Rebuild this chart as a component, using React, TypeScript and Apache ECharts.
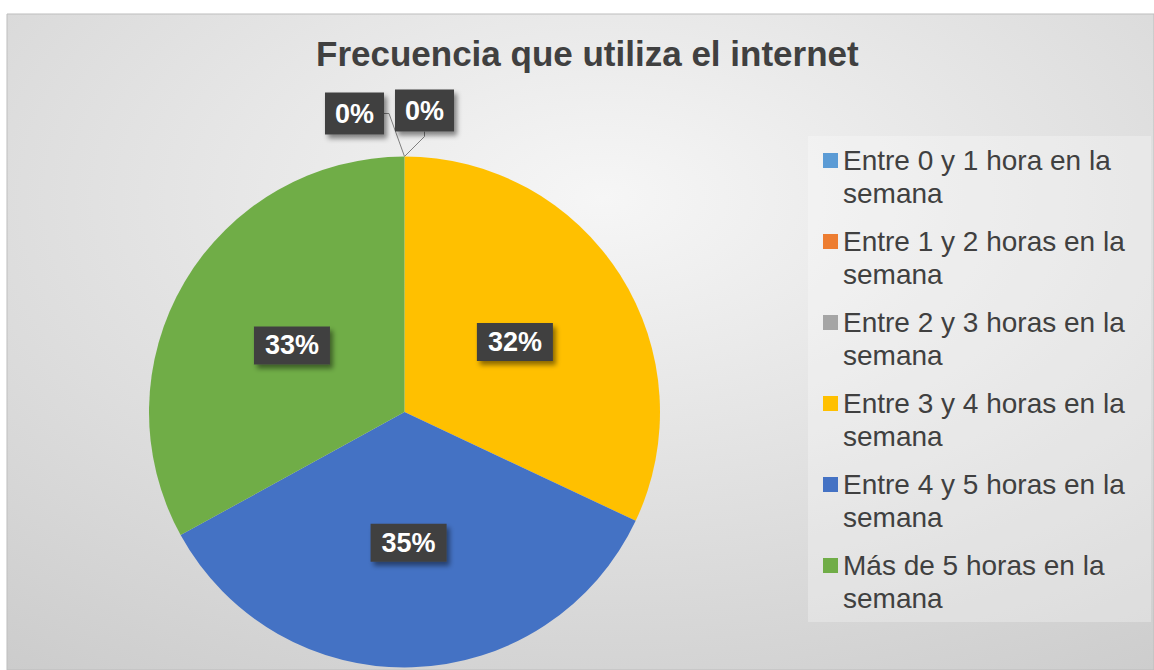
import React, { useEffect, useRef } from 'react';
import * as echarts from 'echarts';

const titleText = 'Frecuencia que utiliza el internet';
const categories = [
  'Entre 0 y 1 hora en la semana',
  'Entre 1 y 2 horas en la semana',
  'Entre 2 y 3 horas en la semana',
  'Entre 3 y 4 horas en la semana',
  'Entre 4 y 5 horas en la semana',
  'Más de 5 horas en la semana',
];
const values = [0, 0, 0, 32, 35, 33];
const colors = ['#5B9BD5', '#ED7D31', '#A5A5A5', '#FFC000', '#4472C4', '#70AD47'];
const shownZeroLabels = [0, 1];

export default function App() {
  const ref = useRef<HTMLDivElement>(null);
  useEffect(() => {
    const chart = echarts.init(ref.current!, null, { renderer: 'svg' });
    const font = "'Liberation Sans', Arial, sans-serif";
    const boxStyle = {
      color: '#ffffff',
      fontFamily: font,
      fontSize: 27,
      fontWeight: 'bold' as const,
      lineHeight: 28,
      backgroundColor: '#404040',
      shadowColor: 'rgba(0,0,0,0.45)',
      shadowBlur: 5,
      shadowOffsetX: 3,
      shadowOffsetY: 4,
      formatter: '{d}%',
    };
    const data = categories.map((name, i) => {
      const zero = values[i] === 0;
      const showZero = shownZeroLabels.indexOf(i) >= 0;
      return {
        name,
        value: values[i],
        itemStyle: { color: colors[i] },
        label: zero
          ? { ...boxStyle, show: showZero, position: 'outside', padding: [7, 10] }
          : { ...boxStyle, show: true, position: 'inside', padding: [5, 11] },
        labelLine: zero
          ? { show: showZero, length: 10, length2: 5, lineStyle: { color: '#7f7f7f', width: 1 } }
          : { show: false },
      };
    });
    chart.setOption({
      animation: false,
      backgroundColor: '#ffffff',
      graphic: [
        {
          type: 'rect',
          z: -10,
          silent: true,
          shape: { x: 7, y: 14, width: 1147, height: 656 },
          style: {
            fill: new echarts.graphic.RadialGradient(0.52, 0.28, 1.16, [
              { offset: 0, color: '#f6f6f6' },
              { offset: 1, color: '#bfbfbf' },
            ]),
            stroke: '#bdbdbd',
            lineWidth: 1,
          },
        },
        {
          type: 'rect',
          z: -9,
          silent: true,
          shape: { x: 808, y: 136, width: 343, height: 486 },
          style: { fill: 'rgba(255,255,255,0.28)' },
        },
      ],
      title: {
        text: titleText,
        left: 316,
        top: 36,
        padding: 0,
        textStyle: { fontFamily: font, fontSize: 35, fontWeight: 'bold', color: '#404040' },
      },
      legend: {
        orient: 'vertical',
        left: 823,
        top: 111,
        padding: 0,
        itemWidth: 15,
        itemHeight: 15,
        itemGap: -18,
        icon: 'rect',
        selectedMode: false,
        formatter: (name: string) => '\n' + name.replace(/ semana$/, '\nsemana'),
        textStyle: {
          fontFamily: font,
          fontSize: 28,
          color: '#404040',
          lineHeight: 33,
        },
        data: categories,
      },
      series: [
        {
          type: 'pie',
          center: [404.5, 412],
          radius: 255.5,
          startAngle: 90,
          clockwise: true,
          avoidLabelOverlap: false,
          percentPrecision: 0,
          silent: true,
          data,
          labelLayout: (params: any) => {
            const r = params.rect;
            if (params.dataIndex === 0) {
              return { x: r.x - 50, y: r.y - 43, align: 'center', verticalAlign: 'middle' };
            }
            if (params.dataIndex === 1) {
              return { x: r.x + 20, y: r.y - 46, align: 'center', verticalAlign: 'middle' };
            }
            return {};
          },
        },
      ],
    });
    return () => chart.dispose();
  }, []);
  return (
    <div
      ref={ref}
      style={{ position: 'absolute', left: 0, top: 0, width: 1154, height: 670 }}
    />
  );
}
